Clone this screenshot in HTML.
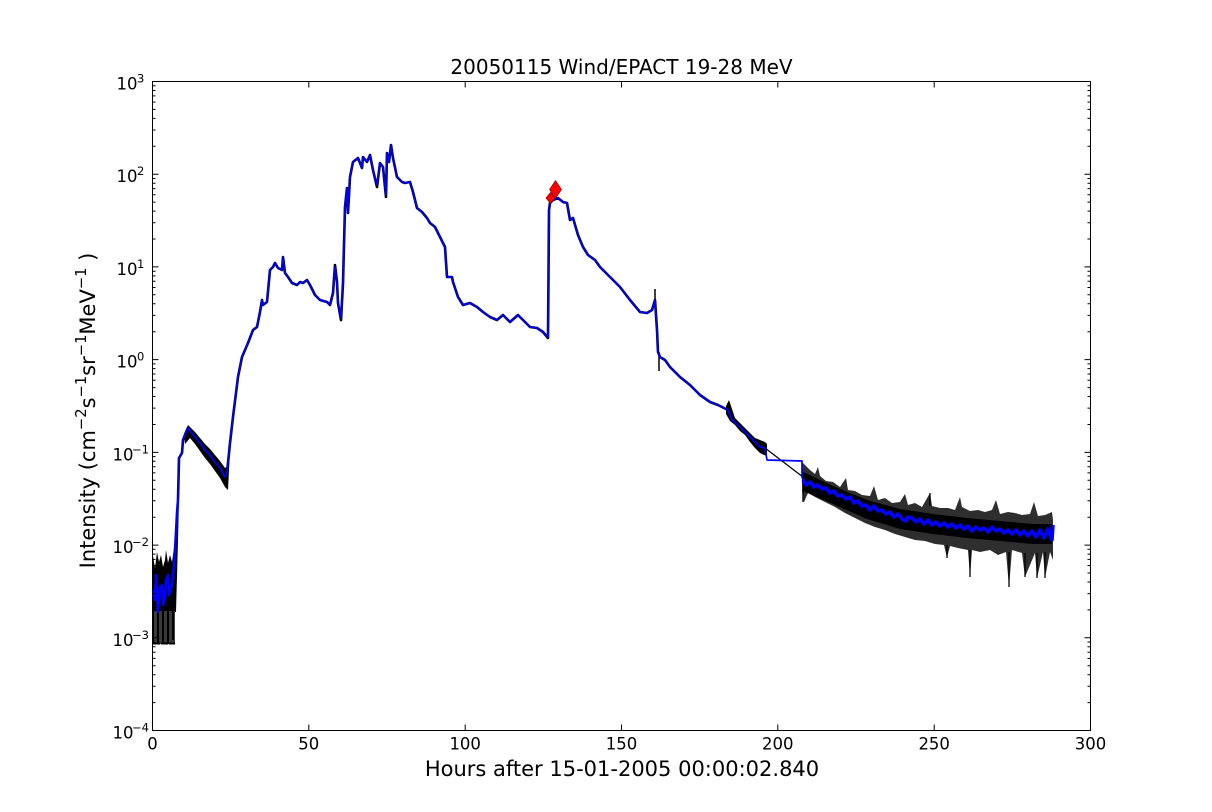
<!DOCTYPE html>
<html><head><meta charset="utf-8"><style>
html,body{margin:0;padding:0;background:#fff;}
svg{display:block;}
text{font-family:"DejaVu Sans","Liberation Sans",sans-serif;fill:#000;}
</style></head><body>
<svg width="1212" height="812" viewBox="0 0 1212 812" xmlns="http://www.w3.org/2000/svg">
<rect x="0" y="0" width="1212" height="812" fill="#fff"/>

<!-- black noise regions -->
<g fill="#000" stroke="none">
<polygon points="152,566 153,556 155,568 157,552 159,562 161,555 163,567 165,560 166,550 168,563 170,555 172,562 174,548 176,528 177,510 179,500 178,540 176,612 152,612"/>
<polygon points="184,434 188,425 195,432 200,438 205,444 210,449 215,455 220,461 225,468 228,466 230,440 230,450 228,490 225,487 220,478 215,471 210,464 205,458 200,451 195,444 190,438 185,444"/>
<polygon points="726,406 729,400 731,406 735,418 740,423 745,428 750,433 755,438 760,440 765,442 767,444 767,456 764,455 760,453 755,448 750,442 745,435 740,431 735,425 730,421 726,414"/>
</g>
<rect x="152" y="611" width="23" height="33" fill="#3a3a3a"/>
<g stroke="#000" stroke-width="2" fill="none">
<path d="M153 610V644M158 610V644M163 610V644M168 610V644M173 610V640"/>
<path d="M152 643.5H160M161 643.5H168M169 643.5H175"/>
</g>
<!-- tail: outer noise + dense core -->
<polygon fill="#2e2e2e" points="802,462 806,466 810,470 815,474 818,467 820,476 826,481 833,482 840,487 846,478 848,490 855,491 862,495 870,496 874,486 878,500 885,498 892,503 900,502 905,494 908,505 915,503 922,507 930,493 932,506 940,508 948,508 955,510 960,497 962,507 970,511 978,510 985,512 992,510 996,500 1000,514 1008,512 1015,513 1022,515 1030,514 1034,502 1038,516 1045,515 1052,512 1053,520 1053,560 1050,552 1045,578 1043,552 1037,578 1035,553 1025,577 1022,553 1012,550 1009,587 1006,552 998,555 990,550 980,552 972,550 970,577 968,550 958,548 950,546 947,558 944,545 935,544 925,541 915,540 905,537 895,534 885,530 875,527 865,523 855,518 845,513 835,507 825,502 815,497 808,493 804,502 803,500 802,490"/>
<polygon fill="#000" points="802,470 803,472 833,486 867,500 900,509 933,514 967,518 1000,521 1033,524 1052,524 1052,544 1033,544 1000,541 967,538 933,534 900,529 867,519 833,504 803,491"/>
<g stroke="#000" stroke-width="1.3" fill="none">
<path d="M970 550V577M1009 552V587M1025 553V577M1037 553V578M1045 552V578M947 545V558M803 490V502M930 506V493"/>
</g>
<g stroke="#000" stroke-width="1.5" fill="none">
<path d="M655 300V289M659 352V371"/>
</g>
<line x1="765" y1="448" x2="803" y2="477" stroke="#000" stroke-width="1.2"/>

<!-- main black underlay -->
<polyline fill="none" stroke="#000" stroke-width="2.6" stroke-linejoin="round" points="178,500 179,458 182,453 183,440 187,430 188,428 192,433 195,437 200,443 205,450 210,455 215,462 220,468 225,477 227,473 230,443 233,417 236,393 238,377 242,357 245,350 248,343 253,330 257,327 260,312 262,300 263,305 267,302 270,270 273,267 275,263 278,268 282,270 283,257 285,273 288,277 292,283 297,285 300,282 303,283 307,280 310,285 315,295 320,300 327,302 330,305 333,293 335,265 337,282 338,303 341,320 343,283 345,207 347,188 348,213 350,177 353,162 358,158 362,168 363,157 367,162 370,155 373,170 377,187 380,163 383,167 386,197 387,153 389,162 391,145 393,158 397,177 402,182 405,183 410,182 413,192 417,208 422,212 427,218 430,223 435,227 440,237 445,247 447,277 452,277 453,282 458,297 463,305 470,303 477,307 483,312 490,317 497,320 503,315 510,322 518,315 523,320 530,327 537,328 543,332 548,338 549,210 550,203 553,200 558,198 563,202 567,203 570,220 573,218 578,235 583,247 588,255 595,260 600,267 610,277 620,287 630,300 640,312 647,313 652,310 655,300 657,330 658,352 660,357 665,360 670,367 680,377 690,385 700,395 710,402 718,405 728,410 732,420 740,427 750,437 760,447 765,448"/>

<!-- blue series -->
<polyline fill="none" stroke="#0000ff" stroke-width="2.6" stroke-linejoin="round" points="153,590 155,600 156,575 158,612 160,588 162,585 163,605 165,598 166,580 168,575 169,595 171,588 172,584 174,567 176,533 177,513 178,500"/>
<polyline fill="none" stroke="#0000ff" stroke-width="1.7" stroke-linejoin="round" points="178,500 179,458 182,453 183,440 187,430 188,428 192,433 195,437 200,443 205,450 210,455 215,462 220,468 225,477 227,473 230,443 233,417 236,393 238,377 242,357 245,350 248,343 253,330 257,327 260,312 262,300 263,305 267,302 270,270 273,267 275,263 278,268 282,270 283,257 285,273 288,277 292,283 297,285 300,282 303,283 307,280 310,285 315,295 320,300 327,302 330,305 333,293 335,267 337,282 338,303 341,318 343,283 345,207 347,188 348,213 350,177 353,162 358,158 362,168 363,157 367,162 370,155 373,170 377,185 380,163 383,167 386,195 387,153 389,162 391,145 393,158 397,177 402,182 405,183 410,182 413,192 417,208 422,212 427,218 430,223 435,227 440,237 445,247 447,277 452,277 453,282 458,297 463,305 470,303 477,307 483,312 490,317 497,320 503,315 510,322 518,315 523,320 530,327 537,328 543,332 548,337 549,210 550,203 553,200 558,198 563,202 567,203 570,220 573,218 578,235 583,247 588,255 595,260 600,267 610,277 620,287 630,300 640,312 647,313 652,310 655,300 657,330 658,352 660,357 665,360 670,367 680,377 690,385 700,395 710,402 718,405 728,410 732,420 740,427 750,437 760,447 765,448 767,460 802,461 802,477 803,480"/>
<polyline fill="none" stroke="#0000ff" stroke-width="3.5" stroke-linejoin="round" points="803,480 806,485 810,482 814,487 818,485 822,489 826,488 830,493 834,491 838,496 842,495 846,499 850,497 854,503 858,501 862,506 866,505 870,510 874,506 878,511 882,510 886,514 890,512 894,517 898,514 902,519 906,521 908,517 912,518 916,522 920,519 924,524 928,520 932,525 936,522 940,526 944,523 948,527 952,524 956,528 960,525 964,529 968,526 972,531 976,527 980,530 984,528 988,532 992,527 996,531 1000,529 1004,533 1008,530 1012,534 1016,530 1020,535 1024,531 1028,536 1032,531 1036,537 1040,530 1044,538 1048,529 1052,540 1053,525"/>

<!-- red markers -->
<polygon points="555.5,180.5 561.5,189.5 555.5,198.5 549.5,189.5" fill="#ff0000" stroke="#600" stroke-width="0.6"/>
<polygon points="550.5,192.5 555,198 550.5,203.5 546,198" fill="#ff0000" stroke="#600" stroke-width="0.6"/>

<!-- axes frame -->
<rect x="152.5" y="81.5" width="938" height="649" fill="none" stroke="#000" stroke-width="1"/>

<!-- ticks -->
<g stroke="#000" stroke-width="1" fill="none">
<path d="M152.5 730.5h6M152.5 637.8h6M152.5 545.1h6M152.5 452.4h6M152.5 359.6h6M152.5 266.9h6M152.5 174.2h6M152.5 81.5h6"/>
<path d="M1090.5 730.5h-6M1090.5 637.8h-6M1090.5 545.1h-6M1090.5 452.4h-6M1090.5 359.6h-6M1090.5 266.9h-6M1090.5 174.2h-6M1090.5 81.5h-6"/>
<path d="M152.5 702.6h3M152.5 686.3h3M152.5 674.7h3M152.5 665.7h3M152.5 658.4h3M152.5 652.2h3M152.5 646.8h3M152.5 642h3
M152.5 609.9h3M152.5 593.6h3M152.5 582h3M152.5 573h3M152.5 565.6h3M152.5 559.4h3M152.5 554.1h3M152.5 549.3h3
M152.5 517.2h3M152.5 500.8h3M152.5 489.3h3M152.5 480.3h3M152.5 472.9h3M152.5 466.7h3M152.5 461.3h3M152.5 456.6h3
M152.5 424.5h3M152.5 408.1h3M152.5 396.5h3M152.5 387.6h3M152.5 380.2h3M152.5 374h3M152.5 368.6h3M152.5 363.9h3
M152.5 331.7h3M152.5 315.4h3M152.5 303.8h3M152.5 294.8h3M152.5 287.5h3M152.5 281.3h3M152.5 275.9h3M152.5 271.2h3
M152.5 239h3M152.5 222.7h3M152.5 211.1h3M152.5 202.1h3M152.5 194.8h3M152.5 188.6h3M152.5 183.2h3M152.5 178.5h3
M152.5 146.3h3M152.5 130h3M152.5 118.4h3M152.5 109.4h3M152.5 102.1h3M152.5 95.9h3M152.5 90.5h3M152.5 85.7h3"/>
<path d="M1090.5 702.6h-3M1090.5 686.3h-3M1090.5 674.7h-3M1090.5 665.7h-3M1090.5 658.4h-3M1090.5 652.2h-3M1090.5 646.8h-3M1090.5 642h-3
M1090.5 609.9h-3M1090.5 593.6h-3M1090.5 582h-3M1090.5 573h-3M1090.5 565.6h-3M1090.5 559.4h-3M1090.5 554.1h-3M1090.5 549.3h-3
M1090.5 517.2h-3M1090.5 500.8h-3M1090.5 489.3h-3M1090.5 480.3h-3M1090.5 472.9h-3M1090.5 466.7h-3M1090.5 461.3h-3M1090.5 456.6h-3
M1090.5 424.5h-3M1090.5 408.1h-3M1090.5 396.5h-3M1090.5 387.6h-3M1090.5 380.2h-3M1090.5 374h-3M1090.5 368.6h-3M1090.5 363.9h-3
M1090.5 331.7h-3M1090.5 315.4h-3M1090.5 303.8h-3M1090.5 294.8h-3M1090.5 287.5h-3M1090.5 281.3h-3M1090.5 275.9h-3M1090.5 271.2h-3
M1090.5 239h-3M1090.5 222.7h-3M1090.5 211.1h-3M1090.5 202.1h-3M1090.5 194.8h-3M1090.5 188.6h-3M1090.5 183.2h-3M1090.5 178.5h-3
M1090.5 146.3h-3M1090.5 130h-3M1090.5 118.4h-3M1090.5 109.4h-3M1090.5 102.1h-3M1090.5 95.9h-3M1090.5 90.5h-3M1090.5 85.7h-3"/>
<path d="M152.5 730.5v-6M308.8 730.5v-6M465.2 730.5v-6M621.5 730.5v-6M777.8 730.5v-6M934.2 730.5v-6M1090.5 730.5v-6"/>
<path d="M152.5 81.5v6M308.8 81.5v6M465.2 81.5v6M621.5 81.5v6M777.8 81.5v6M934.2 81.5v6M1090.5 81.5v6"/>
</g>

<!-- x tick labels -->
<g font-size="16.5" text-anchor="middle">
<text x="152.5" y="749.5">0</text>
<text x="308.8" y="749.5">50</text>
<text x="465.2" y="749.5">100</text>
<text x="621.5" y="749.5">150</text>
<text x="777.8" y="749.5">200</text>
<text x="934.2" y="749.5">250</text>
<text x="1090.5" y="749.5">300</text>
</g>

<!-- y tick labels -->
<g font-size="16.5">
<text x="116.5" y="89.5">10</text><text x="137" y="82.5" font-size="11.5">3</text>
<text x="116.5" y="182.2">10</text><text x="137" y="175.2" font-size="11.5">2</text>
<text x="116.5" y="274.9">10</text><text x="137" y="267.9" font-size="11.5">1</text>
<text x="116.5" y="367.6">10</text><text x="137" y="360.6" font-size="11.5">0</text>
<text x="112.5" y="460.4">10</text><text x="132" y="453.4" font-size="11.5">−1</text>
<text x="112.5" y="553.1">10</text><text x="132" y="546.1" font-size="11.5">−2</text>
<text x="112.5" y="645.8">10</text><text x="132" y="638.8" font-size="11.5">−3</text>
<text x="112.5" y="738.5">10</text><text x="132" y="731.5" font-size="11.5">−4</text>
</g>

<!-- title and axis labels -->
<text x="621.5" y="74" font-size="20" text-anchor="middle">20050115 Wind/EPACT 19-28 MeV</text>
<text x="622" y="776" font-size="21" text-anchor="middle">Hours after 15-01-2005 00:00:02.840</text>
<text transform="translate(95,410.5) rotate(-90)" font-size="21" text-anchor="middle">Intensity (cm<tspan font-size="14.7" dy="-9">−2</tspan><tspan dy="9">s</tspan><tspan font-size="14.7" dy="-9">−1</tspan><tspan dy="9">sr</tspan><tspan font-size="14.7" dy="-9">−1</tspan><tspan dy="9">MeV</tspan><tspan font-size="14.7" dy="-9">−1</tspan><tspan dy="9"> )</tspan></text>
</svg>
</body></html>
